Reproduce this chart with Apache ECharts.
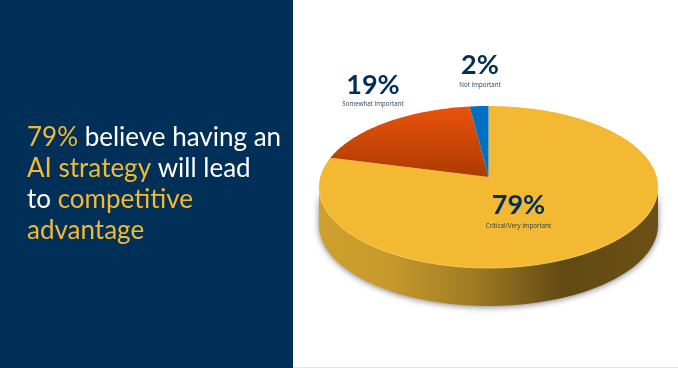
<!DOCTYPE html>
<html><head><meta charset="utf-8">
<style>html,body{margin:0;padding:0;background:#fff}#c{width:678px;height:368px}</style>
<script src="https://cdn.jsdelivr.net/npm/echarts@6/dist/echarts.min.js"></script>
</head><body><div id="c"></div>
<script>
const categories = ['Critical/Very Important', 'Somewhat Important', 'Not Important'];
const values = [79, 19, 2];
const headline = [
  [['79%', 'y'], [' believe having an', 'w']],
  [['AI strategy', 'y'], [' will lead', 'w']],
  [['to ', 'w'], ['competitive', 'y']],
  [['advantage', 'y']]
];

const NAVY = '#002f57', GOLD = '#f3b933';
const colors = [
  GOLD,
  {type:'linear',x:0,y:0,x2:0,y2:1,colorStops:[{offset:0,color:'#ea520a'},{offset:1,color:'#ac3b02'}]},
  '#0070c0'
];
const disc = {cx:488.5, cy:187, rx:169.5, ry:81, d:0.123, depth:38};
const labelPos = [[518.5,205,226],[373,85,104.5],[480,65,85.5]];
const total = values.reduce((a,b)=>a+b,0);

function project(a){
  const u = Math.sin(a), v = Math.cos(a), w = 1 + disc.d*v;
  const s = Math.sqrt(1 - disc.d*disc.d);
  return [disc.cx + disc.rx*u*s/w, disc.cy - disc.ry*(v+disc.d)/w];
}
function renderSlice(params, api){
  const i = params.dataIndex;
  let before = 0;
  for (let k=0;k<i;k++) before += values[k];
  const a0 = before/total*Math.PI*2, a1 = (before+api.value(1))/total*Math.PI*2;
  const pts = [[disc.cx, disc.cy - disc.ry*disc.d]];
  const steps = Math.max(6, Math.round((a1-a0)*60));
  for (let s=0;s<=steps;s++) pts.push(project(a0+(a1-a0)*s/steps));
  const children = [];
  const rim=[];
  if (i===0){
    const wall=[];
    for (let t=0;t<=180;t+=2){const r=t*Math.PI/180;const p=[disc.cx+disc.rx*Math.cos(r),disc.cy+disc.ry*Math.sin(r)];wall.push(p);rim.push(p);}
    for (let t=180;t>=0;t-=2){const r=t*Math.PI/180;wall.push([disc.cx+disc.rx*Math.cos(r),disc.cy+disc.depth+disc.ry*Math.sin(r)]);}
    children.push({type:'polygon',shape:{points:wall},style:{
      fill:{type:'linear',x:0,y:0,x2:1,y2:0,colorStops:[
        {offset:0,color:'#cfa02d'},{offset:0.2,color:'#c79a2c'},{offset:0.45,color:'#a17c24'},
        {offset:0.72,color:'#624a13'},{offset:1,color:'#6b5016'}]},
      shadowBlur:6,shadowColor:'rgba(60,60,70,0.65)',shadowOffsetY:1}});
  }
  children.push({type:'polygon',shape:{points:pts},style:{fill:colors[i]}});
  if (i===0) children.push({type:'polyline',shape:{points:rim},style:{fill:null,stroke:'#f8cf5c',lineWidth:0.8}});
  return {type:'group',children};
}
function renderLabel(params, api){
  const i = params.dataIndex, p = labelPos[i];
  return {type:'group',children:[
    {type:'text',style:{x:p[0],y:p[1],text:api.value(1)+'%',align:'center',verticalAlign:'middle',
      font:'bold 27px Lato',fill:'#00305a'}},
    {type:'text',style:{x:p[0],y:p[2],text:categories[i],align:'center',verticalAlign:'middle',
      font:'6.2px "Open Sans"',fill:'#1f3a55'}}
  ]};
}
const dataRows = values.map((v,i)=>[categories[i],v]);
const rich = {
  y:{color:GOLD,fontFamily:'Lato',fontWeight:'normal',fontSize:26,lineHeight:31},
  w:{color:'#ffffff',fontFamily:'Lato',fontWeight:'normal',fontSize:26,lineHeight:31}
};
const chart = echarts.init(document.getElementById('c'),null,{renderer:'canvas'});
chart.setOption({
  animation:false,
  backgroundColor:'#ffffff',
  graphic:[
    {type:'rect',z:-1,shape:{x:293,y:367,width:385,height:1},style:{fill:'#e6e6e6'},silent:true},
    {type:'rect',z:-1,shape:{x:0,y:0,width:293,height:368},style:{fill:NAVY},silent:true}
  ],
  title:{left:27,top:122,padding:0,text:headline.map(l=>l.map(([t,c])=>`{${c}|${t}}`).join('')).join('\n'),
    textStyle:{rich,lineHeight:31,fontWeight:'normal'}},
  series:[
    {type:'custom',coordinateSystem:'none',renderItem:renderSlice,data:dataRows,silent:true,z:2},
    {type:'custom',coordinateSystem:'none',renderItem:renderLabel,data:dataRows,silent:true,z:3}
  ]
});
</script></body></html>
